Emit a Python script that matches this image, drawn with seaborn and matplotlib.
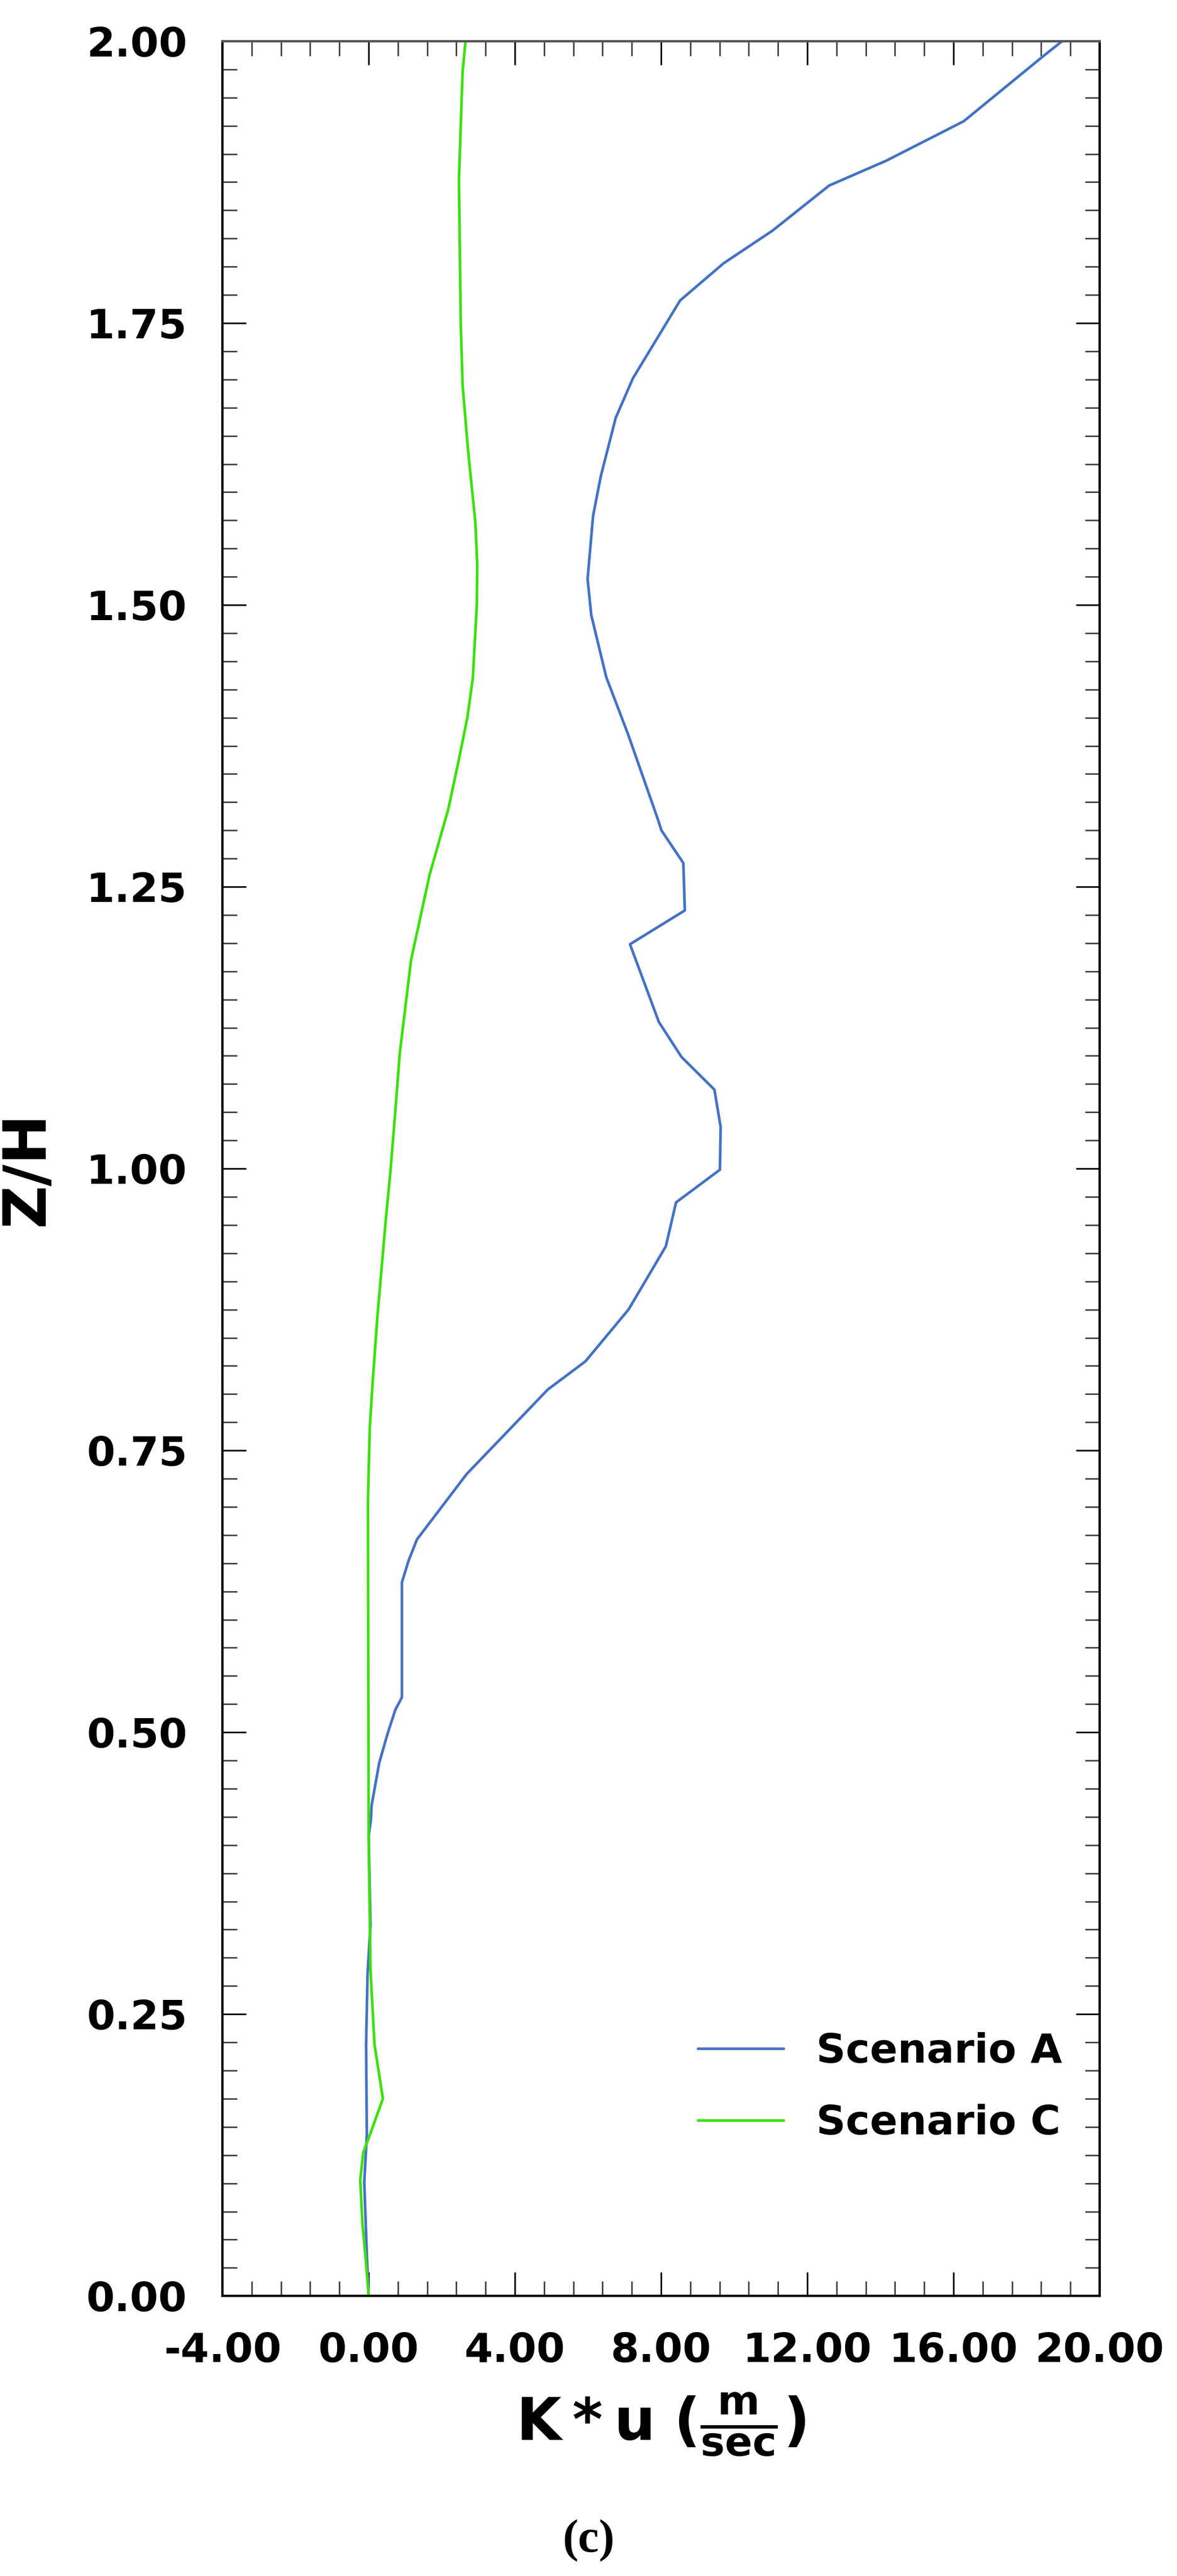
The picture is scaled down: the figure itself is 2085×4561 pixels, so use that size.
import numpy as np
import pandas as pd
import matplotlib
matplotlib.use("Agg")
import matplotlib.pyplot as plt
from matplotlib.ticker import MultipleLocator, FormatStrFormatter
import seaborn as sns

# profiles: Z/H (height) and K*u (m/sec)
z_a = [0.000, 0.037, 0.101, 0.143, 0.223, 0.286, 0.329, 0.408, 0.422, 0.435,
       0.473, 0.499, 0.520, 0.531, 0.633, 0.652, 0.671, 0.729, 0.804, 0.829,
       0.875, 0.931, 0.970, 0.999, 1.037, 1.070, 1.099, 1.130, 1.199, 1.229,
       1.271, 1.300, 1.311, 1.385, 1.436, 1.491, 1.523, 1.579, 1.614, 1.666,
       1.701, 1.770, 1.803, 1.832, 1.872, 1.894, 1.911, 1.929, 1.985, 2.000]
ku_a = [0.00, -0.05, -0.12, -0.05, -0.07, -0.03, 0.05, 0.00, 0.06, 0.08,
        0.29, 0.52, 0.73, 0.91, 0.91, 1.09, 1.32, 2.68, 4.90, 5.93,
        7.11, 8.13, 8.41, 9.61, 9.63, 9.46, 8.56, 7.94, 7.15, 8.65,
        8.61, 8.01, 7.90, 7.10, 6.50, 6.09, 5.99, 6.14, 6.35, 6.76,
        7.23, 8.52, 9.71, 11.05, 12.60, 14.16, 15.19, 16.28, 18.39, 18.97]

z_c = [0.000, 0.029, 0.064, 0.103, 0.127, 0.140, 0.175, 0.223, 0.289, 0.408,
       0.705, 0.770, 0.811, 0.869, 0.955, 0.999, 1.051, 1.102, 1.185, 1.261,
       1.319, 1.360, 1.400, 1.435, 1.500, 1.536, 1.573, 1.637, 1.695, 1.749,
       1.877, 1.973, 2.000]
ku_c = [0.00, -0.07, -0.17, -0.23, -0.15, 0.00, 0.39, 0.16, 0.05, 0.00,
        -0.02, 0.03, 0.11, 0.24, 0.47, 0.60, 0.73, 0.85, 1.16, 1.67,
        2.18, 2.45, 2.70, 2.85, 2.96, 2.97, 2.92, 2.72, 2.57, 2.52,
        2.47, 2.57, 2.65]

scenarios = ["Scenario A", "Scenario C"]
colors = ["#4472c4", "#3ce010"]

x_ticks = [-4, 0, 4, 8, 12, 16, 20]
y_ticks = [0.0, 0.25, 0.5, 0.75, 1.0, 1.25, 1.5, 1.75, 2.0]

df = pd.concat([
    pd.DataFrame({"ku": ku_a, "zh": z_a, "scenario": scenarios[0]}),
    pd.DataFrame({"ku": ku_c, "zh": z_c, "scenario": scenarios[1]}),
], ignore_index=True)

sns.set_style("ticks")
plt.rcParams["font.family"] = ["DejaVu Sans"]
plt.rcParams["mathtext.fontset"] = "dejavusans"
plt.rcParams["text.color"] = "black"
plt.rcParams["axes.labelcolor"] = "black"
plt.rcParams["xtick.color"] = "black"
plt.rcParams["ytick.color"] = "black"

fig = plt.figure(figsize=(20.85, 45.61), dpi=100)
ax = fig.add_axes([0.189, 0.1087, 0.7453, 0.8753])

sns.lineplot(data=df, x="ku", y="zh", hue="scenario", hue_order=scenarios,
             palette=colors, sort=False, estimator=None, linewidth=3.4, ax=ax)

ax.set_xlim(-4, 20)
ax.set_ylim(0, 2)
ax.set_xticks(x_ticks)
ax.set_yticks(y_ticks)
ax.xaxis.set_major_formatter(FormatStrFormatter("%.2f"))
ax.yaxis.set_major_formatter(FormatStrFormatter("%.2f"))
ax.xaxis.set_minor_locator(MultipleLocator(0.8))
ax.yaxis.set_minor_locator(MultipleLocator(0.025))

ax.tick_params(which="both", direction="in", top=True, right=True,
               labelsize=52, pad=45, labelcolor="black")
ax.tick_params(which="major", length=30, width=2, color="black")
ax.tick_params(which="minor", length=19, width=1.8, color="#333333")
for lbl in ax.get_xticklabels() + ax.get_yticklabels():
    lbl.set_fontweight("bold")

for s in ax.spines.values():
    s.set_linewidth(3)
    s.set_color("black")
ax.spines["top"].set_color("#555555")

# axis titles
ax.set_xlabel(r"$\mathbf{K*u\ (\frac{m}{sec})}$", fontsize=74, color="black")
ax.xaxis.set_label_coords(0.5, -0.042)
ax.set_ylabel("Z/H", fontsize=76, fontweight="bold", color="black")
ax.yaxis.set_label_coords(-0.19, 0.5)

# legend without frame, bottom right
leg = ax.get_legend()
handles = leg.legend_handles
labels = [t.get_text() for t in leg.get_texts()]
ax.legend(handles, labels, loc="upper left", bbox_to_anchor=(0.542, 0.117),
          frameon=False, prop={"size": 52, "weight": "bold"},
          handlelength=2.1, handletextpad=0.8, labelspacing=0.8,
          borderpad=0, borderaxespad=0, labelcolor="black")

fig.text(0.5, 1 - 4499 / 4561, "(c)", ha="center", va="center",
         family="Liberation Serif", fontsize=60, fontweight="bold",
         color="black")

fig.savefig("out.png", dpi=100)
